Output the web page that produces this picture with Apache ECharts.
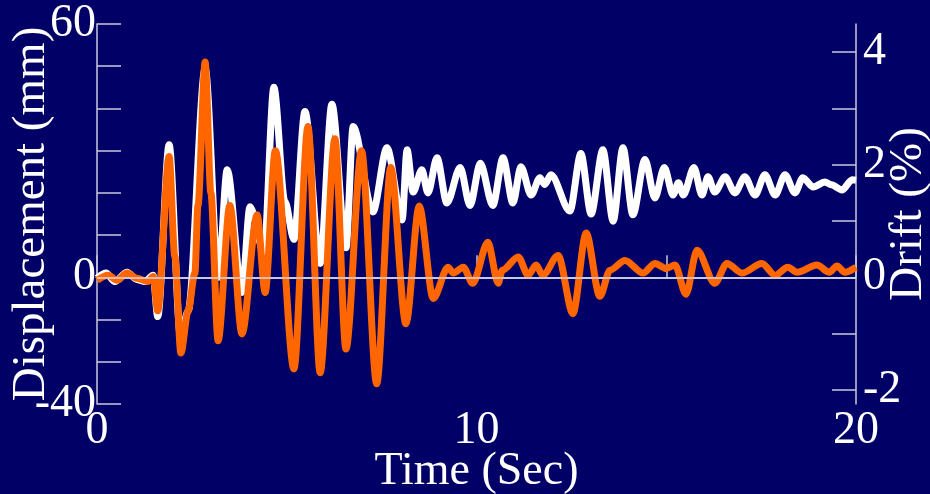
<!DOCTYPE html>
<html><head><meta charset="utf-8">
<script src="https://cdn.jsdelivr.net/npm/echarts@6/dist/echarts.min.js"></script>
<style>html,body{margin:0;padding:0;background:#000066}#c{width:930px;height:494px}</style>
</head><body><div id="c"></div>
<script>
// Time (s) and displacement (mm)
const whiteTime = [0,0.24,0.47,0.79,1.05,1.26,1.48,1.6,1.9,2.2,2.4,2.85,3.2,3.43,3.82,4.03,4.4,4.66,4.95,5.19,5.48,5.88,6.19,6.56,6.75,7.27,7.64,8.04,8.17,8.33,8.56,8.72,8.96,9.22,9.57,9.83,10.1,10.43,10.7,10.96,11.17,11.44,11.67,11.8,11.96,12.46,12.75,13.02,13.33,13.6,13.86,14.12,14.44,14.7,14.95,15.18,15.32,15.45,15.73,15.94,16.1,16.28,16.55,16.81,17.07,17.34,17.6,17.87,18.13,18.39,18.6,18.87,19.18,19.35,19.63,19.9,20];
const whiteMm = [-0.2,1,-1,1.2,-0.5,-1,0.5,-9.3,31.4,-14,-8,49.5,0,25.5,-3.6,16.7,6,45,18,9,39.3,3.3,41,7,35.7,15.5,30.7,13.6,30.2,20.2,25.5,20,28.3,17.6,26,17,27,17,28.3,17.6,26.2,19.5,23.6,22,24.3,15.7,29.3,15,30.2,13.3,30.7,14.8,27.9,18.8,26,19.5,22.4,19.5,26,19.5,23.8,20.2,23.8,20,23.8,19.5,24.3,19.5,24.3,20,23.6,21.4,22.6,21.9,20.7,23.1,23];
const orangeTime = [0,0.29,0.53,0.79,1.05,1.34,1.48,1.6,1.9,2.05,2.21,2.4,2.58,2.66,2.85,3.0,3.19,3.5,3.82,4.22,4.43,4.7,5.19,5.56,5.88,6.27,6.56,6.97,7.37,7.74,8.14,8.49,8.86,9.25,9.39,9.65,9.9,10.3,10.57,10.68,11.1,11.36,11.57,11.75,12.15,12.54,12.89,13.25,13.52,13.91,14.39,14.7,15.0,15.23,15.52,15.81,16.28,16.6,17.0,17.52,17.87,18.2,18.45,18.97,19.3,19.5,19.7,20];
const orangeMm = [-0.7,0.5,-0.7,1,-0.2,-1,0.2,-7.9,28.6,5,-17.9,-8,1,17,51,20,-15,17,-13.4,14.8,-3.6,30,-21.7,35.7,-22.6,32.8,-17,30,-25.2,26,-11,16.9,-5,2.4,1,2.4,-1.4,8.3,-1.4,1.7,4.8,0.5,2.9,0.5,5.2,-8.6,10.5,-4.5,1.7,4,1,3.3,2.1,2.9,-4,6.4,-1.4,3.3,1,3.3,0.5,2.4,1.2,2.9,1.2,2.7,1.2,2.4];

// Tick labels
const xLabelValues = [0, 10, 20];
const leftLabelValues = [60, 0, -30];
const leftLabelTexts = ['60', '0', '-40'];
const rightTickValues = [-2, -1, 0, 1, 2, 3, 4];
const rightLabelValues = [-2, 0, 2, 4];

const FONT = "'Liberation Serif','Times New Roman',serif";
const AX = '#c8c8dc';
const chart = echarts.init(document.getElementById('c'), null, {renderer: 'canvas'});
const pairs = (t, v) => t.map((x, i) => [x, v[i]]);

chart.setOption({
  backgroundColor: '#000066',
  animation: false,
  grid: {left: 97, right: 74, top: 24, bottom: 90, containLabel: false, outerBoundsMode: 'none'},
  xAxis: {
    type: 'value', min: 0, max: 20, interval: 5,
    name: 'Time (Sec)', nameLocation: 'middle', nameGap: 45, nameMoveOverlap: false,
    nameTextStyle: {color: '#fff', fontFamily: FONT, fontSize: 46},
    axisLine: {show: true, lineStyle: {color: AX, width: 1.5}},
    axisTick: {show: true, inside: true, length: 22, lineStyle: {color: AX, width: 1.5}},
    axisLabel: {color: '#fff', fontFamily: FONT, fontSize: 46, margin: 4,
      formatter: v => xLabelValues.includes(v) ? String(v) : ''},
    splitLine: {show: false}
  },
  yAxis: [{
    type: 'value', min: -30, max: 60, interval: 10, position: 'left',
    name: 'Displacement (mm)', nameLocation: 'middle', nameGap: 42, nameMoveOverlap: false,
    nameTextStyle: {color: '#fff', fontFamily: FONT, fontSize: 47},
    axisLine: {show: true, lineStyle: {color: AX, width: 1.5}},
    axisTick: {show: true, inside: true, length: 24, lineStyle: {color: AX, width: 1.5}},
    axisLabel: {color: '#fff', fontFamily: FONT, fontSize: 46, margin: 1,
      formatter: v => { const i = leftLabelValues.indexOf(v); return i >= 0 ? leftLabelTexts[i] : ''; }},
    splitLine: {show: false}
  }, {
    type: 'value', min: -2.25, max: 4.5, position: 'right',
    name: 'Drift (%)', nameLocation: 'middle', nameGap: 29, nameMoveOverlap: false,
    nameTextStyle: {color: '#fff', fontFamily: FONT, fontSize: 47},
    axisLine: {show: true, lineStyle: {color: AX, width: 1.5}},
    axisTick: {show: true, inside: true, length: 24, customValues: rightTickValues, lineStyle: {color: AX, width: 1.5}},
    axisLabel: {color: '#fff', fontFamily: FONT, fontSize: 46, margin: 7, customValues: rightLabelValues},
    splitLine: {show: false}
  }],
  series: [{
    type: 'line', yAxisIndex: 0, data: pairs(whiteTime, whiteMm),
    smooth: 0.3, smoothMonotone: 'x', showSymbol: false,
    lineStyle: {color: '#ffffff', width: 7}
  }, {
    type: 'line', yAxisIndex: 0, data: pairs(orangeTime, orangeMm),
    smooth: 0.3, smoothMonotone: 'x', showSymbol: false,
    lineStyle: {color: '#ff6600', width: 7},
    markLine: {silent: true, symbol: 'none', label: {show: false}, animation: false,
      lineStyle: {color: '#d8d8e8', width: 1.5, type: 'solid'},
      emphasis: {disabled: true},
      data: [{yAxis: 0}]}
  }]
});
</script>
</body></html>
